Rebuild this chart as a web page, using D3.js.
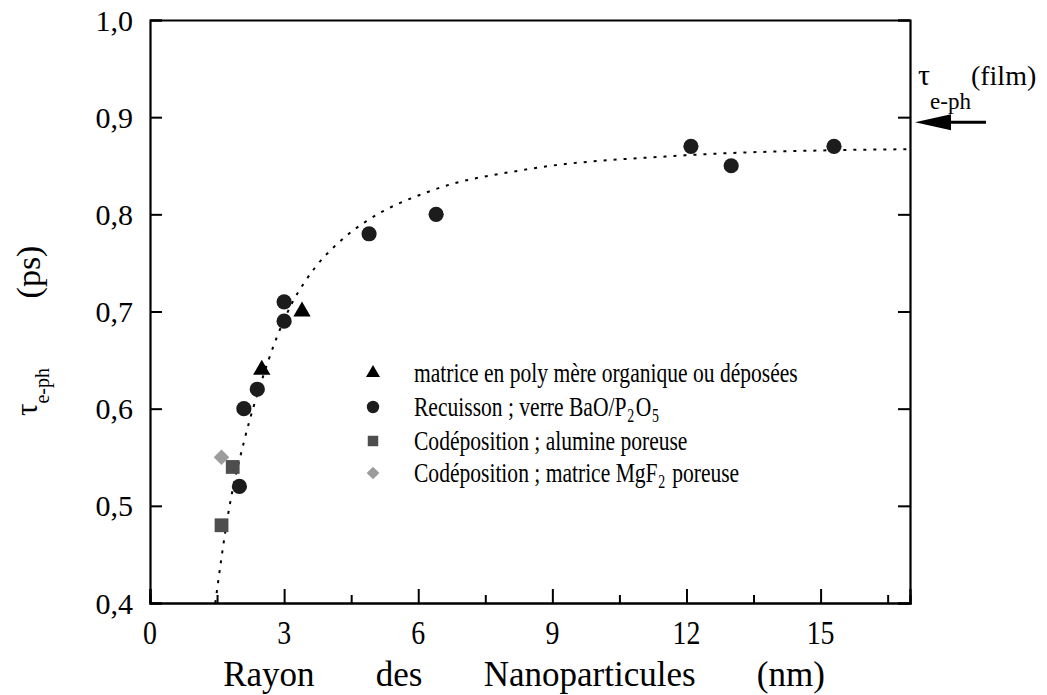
<!DOCTYPE html>
<html><head><meta charset="utf-8">
<script src="https://cdn.jsdelivr.net/npm/d3@7/dist/d3.min.js"></script>
<style>
body{margin:0;background:#fff}
svg{display:block}
text{font-family:"Liberation Serif","Times New Roman",serif;fill:#000}
</style>
</head><body>
<svg id="chart" width="1047" height="695" font-family="Liberation Serif"></svg>
<script>
// ---------- data ----------
const xMajorTicks = [0, 3, 6, 9, 12, 15];
const xMinorTicks = [1.5, 4.5, 7.5, 10.5, 13.5, 16.5];
const yTicks = [0.4, 0.5, 0.6, 0.7, 0.8, 0.9, 1.0];
const yTickLabels = ["0,4", "0,5", "0,6", "0,7", "0,8", "0,9", "1,0"];

const triangleX = [2.5, 3.4];
const triangleY = [0.64, 0.70];
const circleX = [2.0, 2.1, 2.4, 3.0, 3.0, 4.9, 6.4, 12.1, 13.0, 15.3];
const circleY = [0.52, 0.60, 0.62, 0.69, 0.71, 0.78, 0.80, 0.87, 0.85, 0.87];
const squareX = [1.6, 1.85];
const squareY = [0.48, 0.54];
const diamondX = [1.6];
const diamondY = [0.55];

// dotted guide curve
const fitX = [1.46, 1.75, 2.13, 2.5, 2.8, 3.17, 3.47, 4.37, 4.81, 6.33, 8.39, 11.7, 15.3, 17];
const fitY = [0.40, 0.492, 0.571, 0.629, 0.669, 0.708, 0.731, 0.777, 0.792, 0.825, 0.846, 0.860, 0.866, 0.867];

const legendLabels = [
  [["matrice en poly mère organique ou déposées", 0]],
  [["Recuisson ; verre BaO/P", 0], ["2", 1], ["O", -1], ["5", 1]],
  [["Codéposition ; alumine poreuse", 0]],
  [["Codéposition ; matrice MgF", 0], ["2", 1], [" poreuse", -1]]
];
const xTitle = "Rayon       des       Nanoparticules       (nm)";
const filmValue = 0.9;

// ---------- layout ----------
const svg = d3.select("#chart");
const L = 150, R = 910, T = 20, B = 603;
const x = d3.scaleLinear().domain([0, 17]).range([L, R]);
const y = d3.scaleLinear().domain([0.4, 1.0]).range([B, T]);

const COL_CIRCLE = "#1c1c1c", COL_TRI = "#000", COL_SQ = "#4e4e4e", COL_DIA = "#9c9c9c";

// condensed text helper
function ctext(parent, px, py, sx, anchor, size) {
  return parent.append("g").attr("transform", `translate(${px},${py}) scale(${sx},1)`)
    .append("text").attr("text-anchor", anchor).attr("font-size", size);
}

// ---------- axes ----------
const axG = svg.append("g");
axG.append("g").attr("transform", `translate(0,${B})`)
  .call(d3.axisBottom(x).tickValues(xMajorTicks).tickSize(-14).tickFormat(""));
axG.append("g").attr("transform", `translate(0,${B})`)
  .call(d3.axisBottom(x).tickValues(xMinorTicks).tickSize(-8).tickFormat(""));
axG.append("g").attr("transform", `translate(${L},0)`)
  .call(d3.axisLeft(y).tickValues(yTicks).tickSize(-12).tickFormat(""));
axG.append("g").attr("transform", `translate(${R},0)`)
  .call(d3.axisRight(y).tickValues(yTicks).tickSize(-12).tickFormat(""));
axG.append("g").attr("transform", `translate(0,${T})`)
  .call(d3.axisTop(x).tickValues([]).tickSize(0));
axG.selectAll(".domain").attr("stroke", "#000").attr("stroke-width", 2.2);
axG.selectAll(".tick line").attr("stroke", "#000").attr("stroke-width", 2);

// tick labels
yTicks.forEach((v, i) => {
  svg.append("text").attr("x", 133).attr("y", y(v)).attr("dy", "0.35em")
    .attr("text-anchor", "end").attr("font-size", 30).text(yTickLabels[i]);
});
xMajorTicks.forEach(v => {
  ctext(svg, x(v), 644, 0.82, "middle", 34).text(String(v));
});

// axis titles
ctext(svg, 524, 686, 1, "middle", 35).attr("xml:space", "preserve")
  .style("white-space", "pre").text(xTitle);

const yl = svg.append("text").attr("transform", `translate(37,416) rotate(-90)`).attr("font-size", 31);
yl.append("tspan").text("τ");
yl.append("tspan").attr("font-size", 20).attr("dy", 12).text("e-ph");
svg.append("text").attr("transform", `translate(40,272) rotate(-90)`).attr("text-anchor", "middle")
  .attr("font-size", 34).text("(ps)");

// ---------- dotted curve ----------
const fitData = fitX.map((v, i) => [v, fitY[i]]);
svg.append("path").datum(fitData)
  .attr("d", d3.line().x(d => x(d[0])).y(d => y(d[1])).curve(d3.curveMonotoneX))
  .attr("fill", "none").attr("stroke", "#000").attr("stroke-width", 2)
  .attr("stroke-dasharray", "3,7");

// ---------- markers ----------
const sym = (type, size) => d3.symbol().type(type).size(size)();
const mk = svg.append("g");
circleX.forEach((v, i) => mk.append("circle").attr("cx", x(v)).attr("cy", y(circleY[i])).attr("r", 7.6).attr("fill", COL_CIRCLE));
triangleX.forEach((v, i) => mk.append("path").attr("d", sym(d3.symbolTriangle, 130))
  .attr("transform", `translate(${x(v)},${y(triangleY[i])})`).attr("fill", COL_TRI));
squareX.forEach((v, i) => mk.append("path").attr("d", sym(d3.symbolSquare, 190))
  .attr("transform", `translate(${x(v)},${y(squareY[i])})`).attr("fill", COL_SQ));
diamondX.forEach((v, i) => mk.append("path").attr("d", sym(d3.symbolSquare, 120))
  .attr("transform", `translate(${x(v)},${y(diamondY[i])}) rotate(45)`).attr("fill", COL_DIA));

// ---------- legend ----------
const legY = [373, 407, 441, 473];
const legSym = [
  g => g.append("path").attr("d", sym(d3.symbolTriangle, 85)).attr("fill", COL_TRI),
  g => g.append("circle").attr("r", 6.2).attr("fill", COL_CIRCLE),
  g => g.append("path").attr("d", sym(d3.symbolSquare, 110)).attr("fill", COL_SQ),
  g => g.append("path").attr("d", sym(d3.symbolSquare, 80)).attr("transform", "rotate(45)").attr("fill", COL_DIA)
];
legendLabels.forEach((segs, i) => {
  const g = svg.append("g").attr("transform", `translate(373,${legY[i]})`);
  legSym[i](g);
  const t = ctext(svg, 414, legY[i] + 9, 0.77, "start", 28);
  segs.forEach(([s, sub]) => {
    const ts = t.append("tspan").text(s);
    if (sub === 1) ts.attr("font-size", 18).attr("dy", 6).attr("dx", 1);
    if (sub === -1) ts.attr("dy", -6).attr("dx", 2);
  });
});

// ---------- film annotation ----------
const yf = y(filmValue) + 5;
svg.append("line").attr("x1", 945).attr("x2", 986).attr("y1", yf).attr("y2", yf)
  .attr("stroke", "#000").attr("stroke-width", 3);
svg.append("path").attr("d", `M915,${yf} L951,${yf - 8} L951,${yf + 8} Z`).attr("fill", "#000");
const ft = svg.append("text").attr("x", 918).attr("y", 85).attr("font-size", 28);
ft.append("tspan").attr("font-size", 30).text("τ");
ft.append("tspan").attr("font-size", 23).attr("dy", 24).text("e-ph");
ft.append("tspan").attr("dy", -24).text("(film)");
</script>
</body></html>
